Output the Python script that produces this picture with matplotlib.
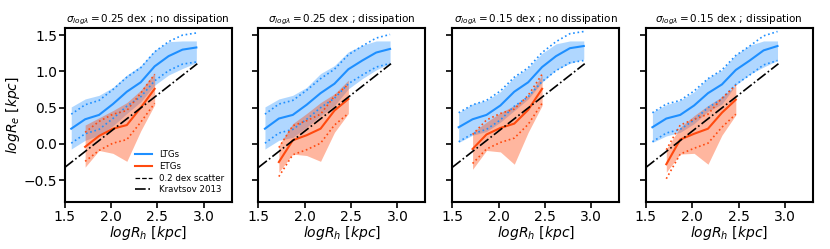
import numpy as np
import matplotlib
matplotlib.use("Agg")
import matplotlib.pyplot as plt
from matplotlib.lines import Line2D

# ---- data ----
x_ltg = [1.57, 1.72, 1.87, 2.02, 2.17, 2.32, 2.47, 2.62, 2.77, 2.92]
x_etg = [1.72, 1.87, 2.02, 2.17, 2.32, 2.47]

titles = [r"$\sigma_{log\lambda}=0.25$ dex ; no dissipation",
          r"$\sigma_{log\lambda}=0.25$ dex ; dissipation",
          r"$\sigma_{log\lambda}=0.15$ dex ; no dissipation",
          r"$\sigma_{log\lambda}=0.15$ dex ; dissipation"]

ltg_med = [[0.21, 0.34, 0.40, 0.55, 0.72, 0.85, 1.07, 1.21, 1.30, 1.33],
           [0.21, 0.35, 0.40, 0.54, 0.70, 0.83, 1.03, 1.15, 1.26, 1.31],
           [0.23, 0.34, 0.40, 0.53, 0.72, 0.85, 1.06, 1.21, 1.32, 1.35],
           [0.23, 0.35, 0.40, 0.53, 0.70, 0.82, 1.02, 1.15, 1.29, 1.35]]
ltg_hi = [[0.51, 0.62, 0.67, 0.78, 0.95, 1.08, 1.29, 1.41, 1.42, 1.42],
          [0.51, 0.62, 0.67, 0.78, 0.97, 1.08, 1.27, 1.36, 1.42, 1.42],
          [0.43, 0.55, 0.60, 0.72, 0.92, 1.05, 1.25, 1.38, 1.42, 1.42],
          [0.44, 0.54, 0.60, 0.72, 0.91, 1.02, 1.23, 1.36, 1.42, 1.42]]
ltg_lo = [[-0.07, 0.05, 0.12, 0.25, 0.42, 0.58, 0.81, 0.95, 1.04, 1.12],
          [-0.07, 0.05, 0.09, 0.23, 0.39, 0.53, 0.76, 0.90, 1.02, 1.11],
          [0.02, 0.12, 0.17, 0.30, 0.46, 0.62, 0.85, 1.02, 1.11, 1.17],
          [0.02, 0.11, 0.16, 0.28, 0.45, 0.55, 0.81, 0.96, 1.06, 1.15]]

etg_med = [[-0.04, 0.11, 0.21, 0.26, 0.50, 0.76],
           [-0.25, 0.05, 0.12, 0.21, 0.46, 0.62],
           [-0.07, 0.13, 0.22, 0.28, 0.47, 0.76],
           [-0.28, 0.06, 0.14, 0.21, 0.43, 0.61]]
etg_hi = [[0.26, 0.36, 0.46, 0.57, 0.74, 0.98],
          [-0.02, 0.28, 0.42, 0.57, 0.69, 0.88],
          [0.16, 0.30, 0.43, 0.53, 0.66, 0.95],
          [-0.07, 0.23, 0.39, 0.53, 0.65, 0.80]]
etg_lo = [[-0.32, -0.09, -0.13, -0.24, 0.18, 0.54],
          [-0.39, -0.14, -0.16, -0.24, 0.16, 0.42],
          [-0.35, -0.09, -0.11, -0.28, 0.16, 0.53],
          [-0.39, -0.14, -0.13, -0.28, 0.12, 0.40]]

scatter_dex = 0.2
kravtsov_x = [1.5, 2.93]
kravtsov_norm = 0.015   # Re = 0.015 Rh

c_ltg = "#1e8fff"
c_etg = "#ff4a0f"

fig = plt.figure(figsize=(8.3, 2.49), dpi=100)
left0, width, step = 0.078, 0.201, 0.2334
bottom, height = 0.189, 0.699

for i in range(4):
    ax = fig.add_axes([left0 + i * step, bottom, width, height])
    xl = np.array(x_ltg); xe = np.array(x_etg)
    ml = np.array(ltg_med[i]); me = np.array(etg_med[i])
    ax.fill_between(xl, ltg_lo[i], ltg_hi[i], color=c_ltg, alpha=0.35, lw=0)
    ax.fill_between(xe, etg_lo[i], etg_hi[i], color=c_etg, alpha=0.4, lw=0)
    ax.plot(xl, ml, color=c_ltg, lw=1.5)
    ax.plot(xl, ml + scatter_dex, color=c_ltg, lw=1.2, ls=":")
    ax.plot(xl, ml - scatter_dex, color=c_ltg, lw=1.2, ls=":")
    ax.plot(xe, me, color=c_etg, lw=1.5)
    ax.plot(xe, me + scatter_dex, color=c_etg, lw=1.2, ls=":")
    ax.plot(xe, me - scatter_dex, color=c_etg, lw=1.2, ls=":")
    kx = np.array(kravtsov_x)
    ax.plot(kx, kx + np.log10(kravtsov_norm), color="black", lw=1.2, ls="-.")

    ax.set_xlim(1.5, 3.3)
    ax.set_ylim(-0.8, 1.6)
    ax.set_xticks([1.5, 2.0, 2.5, 3.0])
    ax.set_yticks([-0.5, 0.0, 0.5, 1.0, 1.5])
    ax.tick_params(labelsize=10, width=1.2, length=4, pad=1.5)
    for s in ax.spines.values():
        s.set_linewidth(1.5)
    ax.set_title(titles[i], fontsize=7.5, pad=4)
    ax.set_xlabel(r"$logR_h\ [kpc]$", fontsize=10, labelpad=0)
    if i == 0:
        ax.set_ylabel(r"$logR_e\ [kpc]$", fontsize=10, labelpad=1)
        handles = [Line2D([], [], color=c_ltg, lw=1.5),
                   Line2D([], [], color=c_etg, lw=1.5),
                   Line2D([], [], color="black", lw=0.9, ls="--"),
                   Line2D([], [], color="black", lw=1.2, ls="-.")]
        ax.legend(handles, ["LTGs", "ETGs", "0.2 dex scatter", "Kravtsov 2013"],
                  loc="lower right", fontsize=6.2, frameon=False,
                  handlelength=2.0, handletextpad=0.8, labelspacing=0.3)
    else:
        ax.set_yticklabels([])

fig.savefig("out.png", dpi=100)
